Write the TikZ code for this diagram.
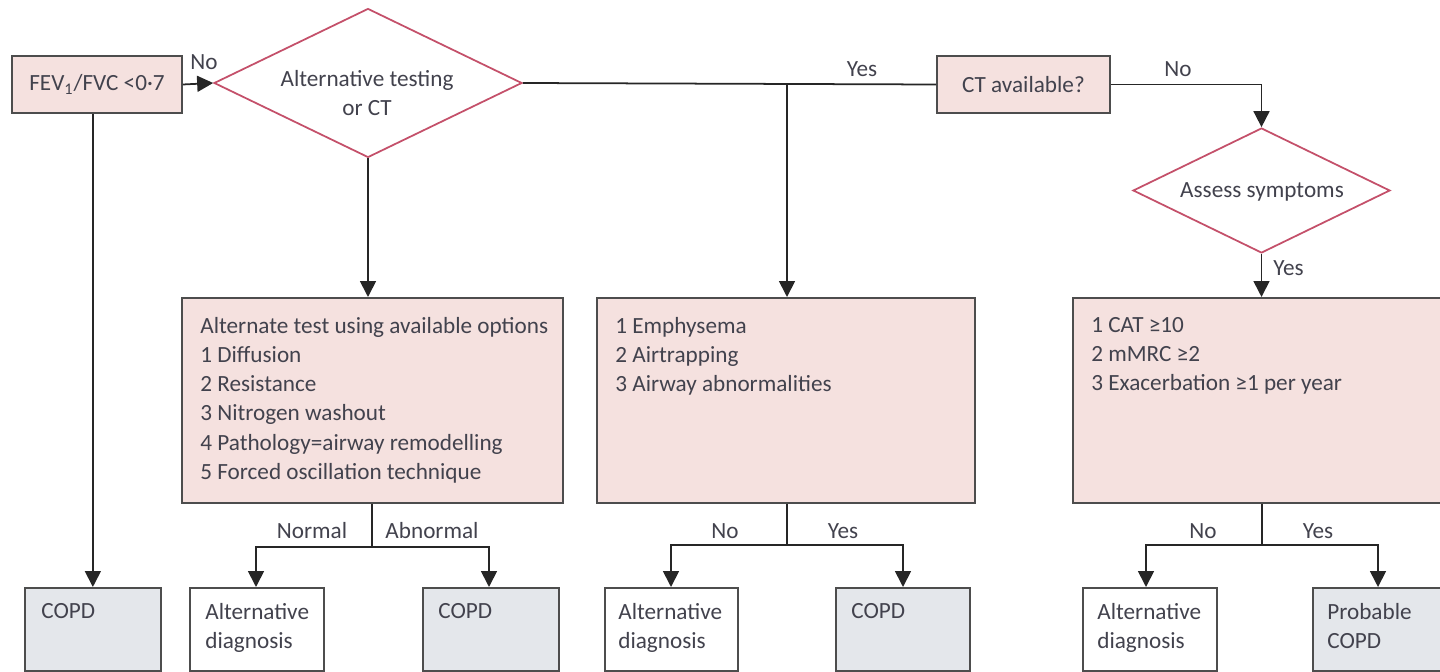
\documentclass[tikz,border=0pt]{standalone}
\usepackage{fontspec}
\setmainfont{Carlito}
\usetikzlibrary{shapes.geometric,arrows.meta,calc}
\definecolor{boxpink}{HTML}{F5E1DF}
\definecolor{boxgray}{HTML}{E4E7EB}
\definecolor{edge}{HTML}{4D4D4D}
\definecolor{diared}{HTML}{C4506A}
\definecolor{ink}{HTML}{42424D}
\begin{document}
\begin{tikzpicture}[x=0.02cm,y=-0.02cm,
  every node/.style={font=\fontsize{13.2}{16.6}\selectfont, text=ink},
  pinkbox/.style={draw=edge, line width=1pt, fill=boxpink, inner sep=0, anchor=north west},
  outbox/.style={draw=edge, line width=1pt, fill=boxgray, inner sep=0, anchor=north west, minimum height=1.66cm},
  altbox/.style={draw=edge, line width=1pt, fill=white, inner sep=0, anchor=north west, minimum height=1.66cm},
  qbox/.style={draw=edge, line width=1pt, fill=boxpink, inner sep=0, minimum height=1.14cm},
  decision/.style={diamond, draw=diared, line width=1pt, fill=white, inner sep=0},
  txt/.style={anchor=north west, align=left, inner sep=0},
  lbl/.style={inner sep=0},
  conn/.style={draw=black!85, line width=1pt},
  arr/.style={conn, -{Triangle[length=0.32cm,width=0.32cm]}}
]
\useasboundingbox (0,0) rectangle (1440,672);
\clip (0,0) rectangle (1440,672);

% top row
\node[qbox, minimum width=3.4cm] (fev) at (97,84.5) {FEV\textsubscript{1}/FVC <0·7};
\node[decision, minimum width=6.16cm, minimum height=2.98cm] (d1) at (368,83) {};
\node[lbl, align=center] (d1t) at (367,93) {Alternative testing\\or CT};
\node[qbox, minimum width=3.46cm] (ct) at (1023.5,84.5) {CT available?};
\node[decision, minimum width=5.14cm, minimum height=2.5cm] (d3) at (1261.5,190.5) {};
\node[lbl] (d3t) at (1262,192) {Assess symptoms};

% middle row
\node[pinkbox, minimum width=7.62cm, minimum height=4.1cm] (b1) at (181,297) {};
\node[txt] (b1t) at ($(b1.north west)+(19,20)$) {Alternate test using available options\\1 Diffusion\\2 Resistance\\3 Nitrogen washout\\4 Pathology=airway remodelling\\5 Forced oscillation technique};
\node[pinkbox, minimum width=7.56cm, minimum height=4.1cm] (b2) at (596,297) {};
\node[txt] (b2t) at ($(b2.north west)+(19,20)$) {1 Emphysema\\2 Airtrapping\\3 Airway abnormalities};
\node[pinkbox, minimum width=7.8cm, minimum height=4.1cm] (b3) at (1072,297) {};
\node[txt] (b3t) at ($(b3.north west)+(19,20)$) {1 CAT ≥10\\2 mMRC ≥2\\3 Exacerbation ≥1 per year};

% outcomes
\node[outbox, minimum width=2.72cm] (o1) at (24,587) {};
\node[txt] (o1t) at ($(o1.north west)+(17,16)$) {COPD};
\node[altbox, minimum width=2.68cm] (a1) at (189,587) {};
\node[txt] (a1t) at ($(a1.north west)+(16,16)$) {Alternative\\diagnosis};
\node[outbox, minimum width=2.72cm] (o2) at (422,587) {};
\node[txt] (o2t) at ($(o2.north west)+(16,16)$) {COPD};
\node[altbox, minimum width=2.66cm] (a2) at (604,587) {};
\node[txt] (a2t) at ($(a2.north west)+(14,16)$) {Alternative\\diagnosis};
\node[outbox, minimum width=2.68cm] (o3) at (835,587) {};
\node[txt] (o3t) at ($(o3.north west)+(16,16)$) {COPD};
\node[altbox, minimum width=2.68cm] (a3) at (1082,587) {};
\node[txt] (a3t) at ($(a3.north west)+(15,16)$) {Alternative\\diagnosis};
\node[outbox, minimum width=2.8cm] (o4) at (1312,587) {};
\node[txt] (o4t) at ($(o4.north west)+(15,16)$) {Probable\\COPD};

% connectors along the top
\draw[arr] (fev.east) -- (d1.west);
\node[lbl] (lno1) at (204,62) {No};
\draw[conn] (d1.east) -- (ct.west);
\coordinate (yesj) at (787,84);
\draw[arr] (yesj) -- (yesj |- b2.north);
\node[lbl] (lyes1) at (862,69) {Yes};
\draw[arr] (ct.east) -| (d3.north);
\node[lbl] (lno2) at (1178,69) {No};
\draw[arr] (d3.south) -- (d3.south |- b3.north);
\node[lbl, anchor=west] (lyes2) at (1273,268) {Yes};
\draw[arr] (d1.south) -- (d1.south |- b1.north);
\draw[arr] (o1.north |- fev.south) -- (o1.north);

% branches below the boxes
\coordinate (s1) at ($(b1.south)+(0,43)$);
\draw[conn] (b1.south) -- (s1);
\draw[arr] (s1) -| (256,587);
\draw[arr] (s1) -| (489,587);
\node[lbl] (lnorm) at (312,531) {Normal};
\node[lbl] (labn) at (432,531) {Abnormal};

\coordinate (s2) at (787,545);
\draw[conn] (yesj |- b2.south) -- (s2);
\draw[arr] (s2) -| (671,587);
\draw[arr] (s2) -| (903,587);
\node[lbl] (lno3) at (725,531) {No};
\node[lbl] (lyes3) at (843,531) {Yes};

\coordinate (s3) at (1262,545);
\draw[conn] (s3 |- b3.south) -- (s3);
\draw[arr] (s3) -| (1146,587);
\draw[arr] (s3) -| (1378,587);
\node[lbl] (lno4) at (1203,531) {No};
\node[lbl] (lyes4) at (1318,531) {Yes};
\end{tikzpicture}
\end{document}
